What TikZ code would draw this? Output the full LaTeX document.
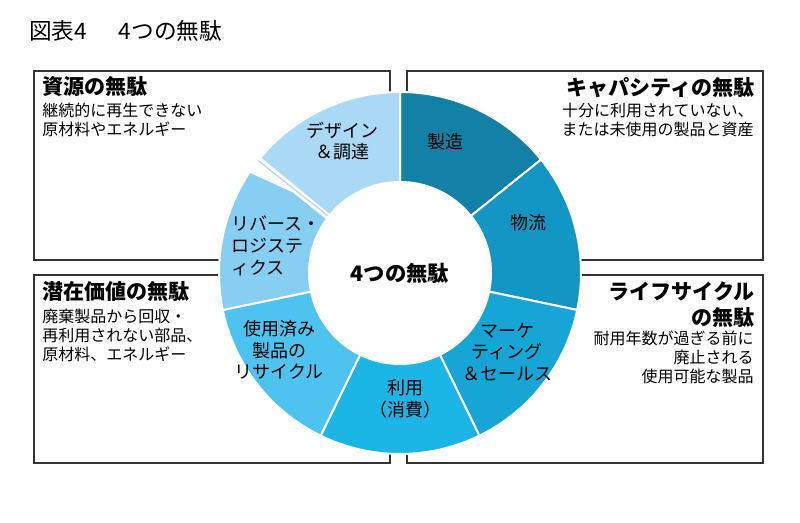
\documentclass[tikz,border=0pt]{standalone}
\usepackage{fontspec}
\setmainfont{Noto Sans CJK JP}
\definecolor{segA}{HTML}{1381A6}
\definecolor{segB}{HTML}{1496C4}
\definecolor{segC}{HTML}{16A5D4}
\definecolor{segD}{HTML}{1BB5E6}
\definecolor{segE}{HTML}{4FC3EF}
\definecolor{segF}{HTML}{86CEF2}
\definecolor{segG}{HTML}{A9D9F5}
\begin{document}
\begin{tikzpicture}[x=0.75pt, y=-0.75pt,
    frame/.style = {draw=black!80, line width=1.1pt},
    seg/.style = {draw=white, line width=1.5pt},
    head/.style = {inner sep=0, font=\fontsize{15.8}{19.4}\selectfont\bfseries},
    body/.style = {inner sep=0, font=\fontsize{12}{14.2}\selectfont},
    lbl/.style = {inner sep=0, align=center, font=\fontsize{13.5}{16.3}\selectfont}]
    \useasboundingbox (0,0) rectangle (800,523);
    \node[inner sep=0, anchor=west, font=\fontsize{17}{20}\selectfont] (t) at (29,31) {図表4\hspace{1.4em}4つの無駄};
    %Frames
    \draw[frame] (34,71) rectangle (390,260);
    \draw[frame] (407,71) rectangle (763,260);
    \draw[frame] (34,275) rectangle (390,463);
    \draw[frame] (407,275) rectangle (763,463);
    %Donut
    \begin{scope}[shift={(400,273)}, yscale=-1]
        \filldraw[seg, fill=segA] (0,0) -- (90:181) arc[start angle=90, end angle=38.8, radius=181] -- cycle;
        \filldraw[seg, fill=segB] (0,0) -- (38.8:181) arc[start angle=38.8, end angle=-11.8, radius=181] -- cycle;
        \filldraw[seg, fill=segC] (0,0) -- (-11.8:181) arc[start angle=-11.8, end angle=-64, radius=181] -- cycle;
        \filldraw[seg, fill=segD] (0,0) -- (-64:181) arc[start angle=-64, end angle=-116, radius=181] -- cycle;
        \filldraw[seg, fill=segE] (0,0) -- (-116:181) arc[start angle=-116, end angle=-168.2, radius=181] -- cycle;
        \filldraw[seg, fill=segF] (0,0) -- (191.8:181) arc[start angle=191.8, end angle=146, radius=181] -- (142.6:134) -- (143.3:92) -- cycle;
        \filldraw[seg, fill=segG] (0,0) -- (140.6:181) arc[start angle=140.6, end angle=90, radius=181] -- cycle;
        \draw[segG, line width=0.9pt] (141.6:92) -- (141.6:181);
        \fill[white] (0,0) circle[radius=92];
    \end{scope}
    \node[inner sep=0, font=\fontsize{16}{19}\selectfont\bfseries] (c) at (400,273) {4つの無駄};
    %Segment labels
    \node[lbl] (s1) at (445,142) {製造};
    \node[lbl] (s2) at (528,223) {物流};
    \node[lbl] (s3) at (507,352) {マーケ\\ティング\\＆セールス};
    \node[lbl] (s4) at (405,399) {利用\\（消費）};
    \node[lbl] (s5) at (279,350) {使用済み\\製品の\\リサイクル};
    \node[lbl, align=left, anchor=west] (s6) at (231,246) {リバース・\\ロジステ\\ィクス};
    \node[lbl] (s7) at (342,141) {デザイン\\＆調達};
    %Quadrant texts
    \node[head, anchor=west] (h1) at (42,86.5) {資源の無駄};
    \node[body, align=left, anchor=west] (b1) at (42,120) {継続的に再生できない\\原材料やエネルギー};
    \node[head, anchor=east] (h2) at (755,87.5) {キャパシティの無駄};
    \node[body, align=right, anchor=east] (b2) at (754,120) {十分に利用されていない、\\または未使用の製品と資産};
    \node[head, anchor=west] (h3) at (42,291.7) {潜在価値の無駄};
    \node[body, align=left, anchor=west] (b3) at (42,335) {廃棄製品から回収・\\再利用されない部品、\\原材料、エネルギー};
    \node[head, align=right, anchor=east] (h4) at (755,304.6) {ライフサイクル\\の無駄};
    \node[body, align=right, anchor=east] (b4) at (754,357.6) {耐用年数が過ぎる前に\\廃止される\\使用可能な製品};
\end{tikzpicture}
\end{document}
